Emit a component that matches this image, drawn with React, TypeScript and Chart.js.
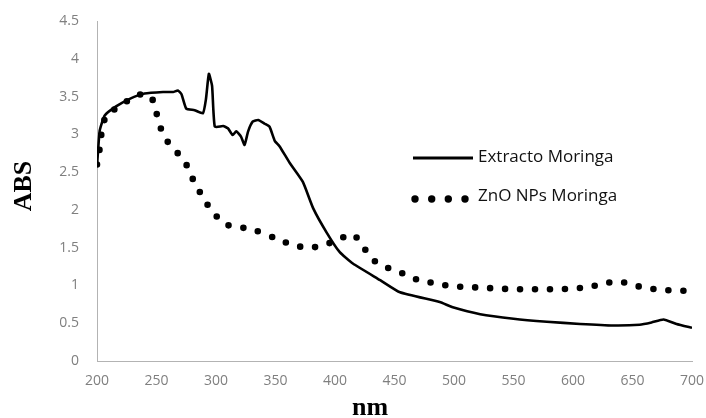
import React, { useEffect, useRef } from 'react';
import { Chart, registerables } from 'chart.js';

Chart.register(...registerables);

// ---- data ----
const extractoNm = [200, 202.3, 206.5, 216, 227.5, 240, 255.5, 264, 268, 271, 275, 282, 289, 291.5, 294, 296.7, 299, 306, 310, 314, 317, 321, 324, 327, 331, 335.5, 341, 345, 349.5, 353.5, 362, 373, 381.7, 393, 404, 415, 438, 454.6, 488, 499, 522, 550, 578, 606, 634, 656, 666, 676, 687, 700];
const extractoAbs = [2.58, 3.05, 3.25, 3.37, 3.47, 3.54, 3.56, 3.56, 3.58, 3.53, 3.34, 3.32, 3.28, 3.46, 3.8, 3.64, 3.1, 3.11, 3.08, 2.99, 3.04, 2.97, 2.86, 3.04, 3.17, 3.19, 3.14, 3.1, 2.91, 2.84, 2.62, 2.37, 2.02, 1.7, 1.44, 1.29, 1.07, 0.91, 0.78, 0.71, 0.62, 0.56, 0.52, 0.49, 0.47, 0.48, 0.51, 0.55, 0.49, 0.44];

const znoNm = [200, 201.7, 203, 204.5, 208, 217.7, 227.5, 240, 247, 250, 252.7, 257, 263.4, 271.5, 277, 281.6, 287, 292.8, 299.6, 308, 320, 331, 353.6, 366, 379, 391.5, 403.5, 414, 422, 428.5, 437, 448.5, 460, 472, 484.6, 497.5, 510, 523, 536, 549, 562, 575, 588.5, 601, 614, 627, 639, 651.6, 664, 677.5, 690, 700];
const znoAbs = [2.6, 2.75, 2.92, 3.08, 3.25, 3.36, 3.46, 3.54, 3.45, 3.28, 3.12, 2.96, 2.82, 2.69, 2.54, 2.37, 2.22, 2.07, 1.93, 1.81, 1.77, 1.74, 1.6, 1.53, 1.5, 1.54, 1.61, 1.68, 1.56, 1.4, 1.28, 1.21, 1.14, 1.06, 1.03, 0.99, 0.98, 0.97, 0.96, 0.95, 0.95, 0.95, 0.95, 0.96, 0.98, 1.03, 1.05, 1.0, 0.96, 0.94, 0.93, 0.93];

const xTickValues = [200, 250, 300, 350, 400, 450, 500, 550, 600, 650, 700];
const yTickValues = [0, 0.5, 1, 1.5, 2, 2.5, 3, 3.5, 4, 4.5];
const seriesLabels = ['Extracto Moringa', 'ZnO NPs Moringa'];
const xTitle = 'nm';
const yTitle = 'ABS';

const toPoints = (xs: number[], ys: number[]) => xs.map((x, i) => ({ x, y: ys[i] }));

const decorPlugin = {
  id: 'decor',
  afterDraw(chart: any) {
    const ctx = chart.ctx as CanvasRenderingContext2D;
    const ds = chart.data.datasets;
    ctx.save();
    // legend: solid line sample
    ctx.strokeStyle = '#000';
    ctx.lineWidth = 3;
    ctx.beginPath();
    ctx.moveTo(413, 158);
    ctx.lineTo(473, 158);
    ctx.stroke();
    // legend: dots sample
    ctx.fillStyle = '#000';
    [415, 431.7, 448.3, 465].forEach((x) => {
      ctx.beginPath();
      ctx.arc(x, 199, 3.7, 0, Math.PI * 2);
      ctx.fill();
    });
    ctx.fillStyle = '#111';
    ctx.font = '17px "Open Sans"';
    ctx.textAlign = 'left';
    ctx.textBaseline = 'middle';
    ctx.fillText(ds[0].label, 478, 157);
    ctx.fillText(ds[1].label, 478, 196);

    // axis titles
    ctx.fillStyle = '#000';
    ctx.font = 'bold 26px "Liberation Serif"';
    ctx.textAlign = 'center';
    ctx.textBaseline = 'alphabetic';
    ctx.fillText(xTitle, 370, 415);
    ctx.save();
    ctx.translate(31, 186);
    ctx.rotate(-Math.PI / 2);
    ctx.fillText(yTitle, 0, 0);
    ctx.restore();
    ctx.restore();
  },
};

const zeroPad = (s: any) => {
  s.paddingTop = 0;
  s.paddingBottom = 0;
  s.paddingLeft = 0;
  s.paddingRight = 0;
};

export default function App() {
  const ref = useRef<HTMLCanvasElement | null>(null);

  useEffect(() => {
    if (!ref.current) return;
    const tickFont = { family: '"Open Sans"', size: 14 };
    const chart = new Chart(ref.current, {
      type: 'line',
      data: {
        datasets: [
          {
            label: seriesLabels[0],
            data: toPoints(extractoNm, extractoAbs),
            borderColor: '#000',
            borderWidth: 2.6,
            pointRadius: 0,
            tension: 0.15,
            borderJoinStyle: 'round',
            fill: false,
          },
          {
            label: seriesLabels[1],
            data: toPoints(znoNm, znoAbs),
            borderColor: '#000',
            borderWidth: 6.6,
            borderDash: [0, 15],
            borderCapStyle: 'round',
            borderJoinStyle: 'round',
            pointRadius: 0,
            tension: 0.3,
            fill: false,
          },
        ],
      },
      options: {
        animation: false,
        responsive: false,
        layout: { padding: { left: 0, right: 14, top: 21, bottom: 0 } },
        plugins: { legend: { display: false }, tooltip: { enabled: false } },
        scales: {
          x: {
            type: 'linear',
            min: 200,
            max: 700,
            afterBuildTicks: (s: any) => {
              s.ticks = xTickValues.map((v) => ({ value: v }));
            },
            afterFit: (s: any) => {
              s.height = 57;
              zeroPad(s);
            },
            grid: { display: false, drawTicks: false },
            border: { display: true, color: '#b3b3b3', width: 1 },
            ticks: { color: '#7f7f7f', font: tickFont, padding: 12, maxRotation: 0, autoSkip: false, callback: (v: any) => String(v) },
          },
          y: {
            type: 'linear',
            min: 0,
            max: 4.5,
            afterBuildTicks: (s: any) => {
              s.ticks = yTickValues.map((v) => ({ value: v }));
            },
            afterFit: (s: any) => {
              s.width = 97;
              zeroPad(s);
            },
            grid: { display: false, drawTicks: false },
            border: { display: true, color: '#b3b3b3', width: 1 },
            ticks: { color: '#7f7f7f', font: tickFont, padding: 18, autoSkip: false, callback: (v: any) => String(v) },
          },
        },
      },
      plugins: [decorPlugin],
    } as any);
    return () => chart.destroy();
  }, []);

  return (
    <div style={{ position: 'absolute', left: 0, top: 0, width: 706, height: 418, background: '#fff' }}>
      <canvas ref={ref} width={706} height={418} style={{ display: 'block' }} />
    </div>
  );
}
